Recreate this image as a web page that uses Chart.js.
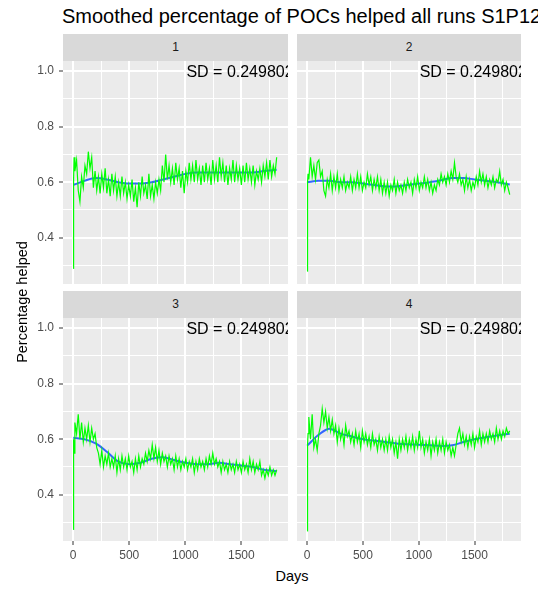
<!DOCTYPE html>
<html>
<head>
<meta charset="utf-8">
<script src="https://cdn.jsdelivr.net/npm/chart.js@4.4.1/dist/chart.umd.min.js"></script>
<style>
  body { margin: 0; background: #fff; font-family: "Liberation Sans", Arial, sans-serif; }
  #page { position: relative; width: 538px; height: 590px; overflow: hidden; }
  .title { position: absolute; left: 62px; top: 7px; font-size: 20px; line-height: 19px; white-space: nowrap; color: #000; }
  .strip { position: absolute; height: 27px; background: #D9D9D9; color: #1A1A1A; font-size: 12px; line-height: 27px; text-align: center; }
  .axis-title { position: absolute; font-size: 14.5px; line-height: 16px; color: #000; text-align: center; white-space: nowrap; }
  canvas { position: absolute; }
</style>
</head>
<body>
<div id="page">
  <div class="title">Smoothed percentage of POCs helped all runs S1P123</div>

  <div class="strip" style="left:63px; top:34px; width:225px;">1</div>
  <div class="strip" style="left:297px; top:34px; width:224px;">2</div>
  <div class="strip" style="left:63px; top:291px; width:225px;">3</div>
  <div class="strip" style="left:297px; top:291px; width:224px;">4</div>

  <canvas id="run1" width="288" height="223" style="left:0; top:61px;"></canvas>
  <canvas id="run2" width="224" height="223" style="left:297px; top:61px;"></canvas>
  <canvas id="run3" width="288" height="247" style="left:0; top:318px;"></canvas>
  <canvas id="run4" width="224" height="247" style="left:297px; top:318px;"></canvas>

  <div class="axis-title" style="left:-78px; top:294px; width:200px; transform:rotate(-90deg);">Percentage helped</div>
  <div class="axis-title" style="left:242px; top:568px; width:100px;">Days</div>
</div>

<script>
// days of the raw series
const days = [0, 2, 5, 8, 15, 30, 45, 60, 75, 90,
  105, 120, 135, 150, 165, 180, 195, 210, 225, 240,
  255, 270, 285, 300, 315, 330, 345, 360, 375, 390,
  405, 420, 435, 450, 465, 480, 495, 510, 525, 540,
  555, 570, 585, 600, 615, 630, 645, 660, 675, 690,
  705, 720, 735, 750, 765, 780, 795, 810, 825, 840,
  855, 870, 885, 900, 915, 930, 945, 960, 975, 990,
  1005, 1020, 1035, 1050, 1065, 1080, 1095, 1110, 1125, 1140,
  1155, 1170, 1185, 1200, 1215, 1230, 1245, 1260, 1275, 1290,
  1305, 1320, 1335, 1350, 1365, 1380, 1395, 1410, 1425, 1440,
  1455, 1470, 1485, 1500, 1515, 1530, 1545, 1560, 1575, 1590,
  1605, 1620, 1635, 1650, 1665, 1680, 1695, 1710, 1725, 1740,
  1755, 1770, 1785, 1800, 1815];

// percentage helped per run
const run1 = [0.29, 0.44, 0.61, 0.69, 0.64, 0.68, 0.57, 0.53, 0.62, 0.58,
  0.66, 0.63, 0.71, 0.65, 0.69, 0.58, 0.64, 0.57, 0.62, 0.56,
  0.63, 0.58, 0.65, 0.56, 0.61, 0.55, 0.63, 0.57, 0.62, 0.55,
  0.60, 0.55, 0.62, 0.56, 0.60, 0.54, 0.59, 0.55, 0.61, 0.53,
  0.58, 0.51, 0.60, 0.55, 0.62, 0.56, 0.59, 0.54, 0.63, 0.55,
  0.59, 0.54, 0.60, 0.56, 0.61, 0.57, 0.66, 0.60, 0.70, 0.61,
  0.66, 0.60, 0.65, 0.59, 0.67, 0.61, 0.65, 0.58, 0.64, 0.56,
  0.64, 0.60, 0.67, 0.61, 0.66, 0.60, 0.68, 0.61, 0.65, 0.59,
  0.66, 0.60, 0.67, 0.61, 0.65, 0.59, 0.68, 0.61, 0.66, 0.60,
  0.69, 0.62, 0.67, 0.60, 0.66, 0.59, 0.65, 0.61, 0.68, 0.60,
  0.66, 0.61, 0.65, 0.59, 0.66, 0.60, 0.67, 0.61, 0.65, 0.60,
  0.66, 0.59, 0.64, 0.61, 0.65, 0.60, 0.66, 0.62, 0.67, 0.61,
  0.68, 0.62, 0.66, 0.63, 0.69];

const run2 = [0.28, 0.44, 0.60, 0.63, 0.61, 0.69, 0.62, 0.66, 0.61, 0.67,
  0.68, 0.62, 0.64, 0.57, 0.55, 0.61, 0.58, 0.63, 0.57, 0.62,
  0.58, 0.63, 0.57, 0.61, 0.58, 0.62, 0.57, 0.60, 0.58, 0.62,
  0.57, 0.61, 0.58, 0.63, 0.58, 0.62, 0.57, 0.60, 0.58, 0.63,
  0.59, 0.62, 0.57, 0.61, 0.58, 0.62, 0.57, 0.61, 0.56, 0.60,
  0.56, 0.60, 0.55, 0.59, 0.57, 0.61, 0.56, 0.60, 0.57, 0.59,
  0.56, 0.60, 0.57, 0.61, 0.58, 0.60, 0.56, 0.61, 0.58, 0.62,
  0.57, 0.60, 0.58, 0.62, 0.58, 0.61, 0.57, 0.60, 0.56, 0.59,
  0.57, 0.61, 0.59, 0.63, 0.60, 0.62, 0.59, 0.63, 0.60, 0.64,
  0.61, 0.67, 0.62, 0.60, 0.63, 0.59, 0.61, 0.57, 0.62, 0.58,
  0.61, 0.57, 0.60, 0.58, 0.62, 0.59, 0.64, 0.60, 0.63, 0.59,
  0.62, 0.58, 0.61, 0.59, 0.62, 0.58, 0.61, 0.60, 0.64, 0.59,
  0.61, 0.57, 0.60, 0.58, 0.555];

const run3 = [0.275, 0.36, 0.60, 0.55, 0.66, 0.62, 0.69, 0.60, 0.66, 0.59,
  0.64, 0.60, 0.65, 0.59, 0.64, 0.60, 0.62, 0.57, 0.55, 0.51,
  0.56, 0.50, 0.54, 0.51, 0.55, 0.50, 0.53, 0.50, 0.54, 0.48,
  0.53, 0.49, 0.54, 0.50, 0.53, 0.49, 0.54, 0.50, 0.52, 0.48,
  0.53, 0.49, 0.54, 0.50, 0.53, 0.51, 0.55, 0.52, 0.56, 0.53,
  0.58, 0.53, 0.57, 0.52, 0.56, 0.51, 0.55, 0.52, 0.54, 0.50,
  0.54, 0.51, 0.53, 0.49, 0.54, 0.50, 0.53, 0.49, 0.52, 0.50,
  0.53, 0.49, 0.52, 0.50, 0.53, 0.48, 0.52, 0.49, 0.53, 0.50,
  0.52, 0.49, 0.53, 0.50, 0.54, 0.51, 0.55, 0.51, 0.53, 0.50,
  0.52, 0.48, 0.52, 0.49, 0.51, 0.48, 0.52, 0.49, 0.51, 0.48,
  0.52, 0.49, 0.51, 0.48, 0.52, 0.49, 0.51, 0.48, 0.53, 0.49,
  0.52, 0.48, 0.51, 0.49, 0.52, 0.47, 0.49, 0.46, 0.49, 0.47,
  0.50, 0.47, 0.49, 0.47, 0.49];

const run4 = [0.27, 0.44, 0.58, 0.62, 0.68, 0.60, 0.69, 0.57, 0.60, 0.56,
  0.62, 0.65, 0.71, 0.66, 0.70, 0.64, 0.68, 0.63, 0.67, 0.62,
  0.65, 0.59, 0.64, 0.60, 0.63, 0.58, 0.65, 0.61, 0.63, 0.59,
  0.62, 0.58, 0.63, 0.59, 0.62, 0.57, 0.63, 0.59, 0.62, 0.58,
  0.61, 0.57, 0.62, 0.58, 0.60, 0.56, 0.61, 0.57, 0.60, 0.56,
  0.60, 0.56, 0.61, 0.57, 0.60, 0.55, 0.59, 0.53, 0.60, 0.56,
  0.60, 0.57, 0.61, 0.56, 0.60, 0.57, 0.61, 0.56, 0.60, 0.57,
  0.63, 0.57, 0.60, 0.55, 0.59, 0.56, 0.60, 0.54, 0.59, 0.56,
  0.60, 0.55, 0.59, 0.56, 0.60, 0.55, 0.59, 0.56, 0.58, 0.54,
  0.57, 0.54, 0.58, 0.62, 0.64, 0.59, 0.62, 0.58, 0.61, 0.57,
  0.61, 0.58, 0.62, 0.57, 0.61, 0.59, 0.63, 0.58, 0.62, 0.59,
  0.62, 0.59, 0.63, 0.60, 0.62, 0.59, 0.64, 0.60, 0.63, 0.60,
  0.63, 0.61, 0.64, 0.62, 0.63];

// loess smooth, sampled every 100 days
const smoothDays = [0, 100, 200, 300, 400, 500, 600, 700, 800, 900, 1000, 1100, 1200, 1300, 1400, 1500, 1600, 1700, 1815];
const smooth1 = [0.59, 0.605, 0.615, 0.61, 0.60, 0.595, 0.595, 0.60, 0.61, 0.62, 0.63, 0.635, 0.635, 0.635, 0.635, 0.635, 0.635, 0.64, 0.645];
const smooth2 = [0.60, 0.605, 0.605, 0.60, 0.60, 0.595, 0.59, 0.585, 0.585, 0.59, 0.595, 0.60, 0.607, 0.615, 0.615, 0.61, 0.605, 0.60, 0.592];
const smooth3 = [0.605, 0.60, 0.585, 0.555, 0.52, 0.51, 0.515, 0.53, 0.535, 0.525, 0.515, 0.51, 0.51, 0.515, 0.51, 0.505, 0.50, 0.49, 0.485];
const smooth4 = [0.577, 0.615, 0.638, 0.62, 0.61, 0.60, 0.595, 0.59, 0.585, 0.582, 0.58, 0.578, 0.576, 0.578, 0.59, 0.60, 0.607, 0.613, 0.62];

// axes
const xTicks = [0, 500, 1000, 1500];
const xMinor = [250, 750, 1250, 1750];
const yTicks = [0.4, 0.6, 0.8, 1.0];
const yMinor = [0.3, 0.5, 0.7, 0.9];
const xRange = [-91, 1916];
const yRange = [0.2335, 1.0365];

const sdText = 'SD = 0.249802';
const sdPos = [1488, 1.0];

const FONT = '"Liberation Sans", Arial, sans-serif';

// Grey panel background behind the grid
const panelBg = {
  id: 'panelBg',
  beforeDraw(chart) {
    const { ctx, chartArea: a } = chart;
    ctx.save();
    ctx.fillStyle = '#EBEBEB';
    ctx.fillRect(a.left, a.top, a.width, a.height);
    ctx.restore();
  },
};

// SD annotation, clipped to the panel like ggplot does
const sdLabel = {
  id: 'sdLabel',
  afterDatasetsDraw(chart) {
    const { ctx, chartArea: a, scales } = chart;
    const x = scales.x.getPixelForValue(sdPos[0]);
    const y = scales.y.getPixelForValue(sdPos[1]);
    ctx.save();
    ctx.beginPath();
    ctx.rect(a.left, a.top, a.width, a.height);
    ctx.clip();
    ctx.font = '16px ' + FONT;
    ctx.fillStyle = '#000';
    ctx.textAlign = 'center';
    ctx.textBaseline = 'alphabetic';
    ctx.fillText(sdText, x, y + 5.7);
    ctx.restore();
  },
};

const isMajor = (list, v) => list.some((t) => Math.abs(t - v) < 1e-9);

const createPanel = (canvasId, values, smooth, showX, showY) => {
  const canvas = document.getElementById(canvasId);
  const context = canvas.getContext('2d');

  return new Chart(context, {
    type: 'line',
    data: {
      datasets: [
        {
          data: days.map((d, i) => ({ x: d, y: values[i] })),
          borderColor: '#00FF00',
          borderWidth: 1.2,
          pointRadius: 0,
          tension: 0,
        },
        {
          data: smoothDays.map((d, i) => ({ x: d, y: smooth[i] })),
          borderColor: '#3366FF',
          borderWidth: 2,
          pointRadius: 0,
          cubicInterpolationMode: 'monotone',
        },
      ],
    },
    options: {
      responsive: false,
      animation: false,
      devicePixelRatio: 1,
      layout: { padding: 0 },
      plugins: {
        legend: { display: false },
        tooltip: { enabled: false },
      },
      scales: {
        x: {
          type: 'linear',
          min: xRange[0],
          max: xRange[1],
          afterBuildTicks: (scale) => {
            scale.ticks = [...xTicks, ...xMinor].sort((a, b) => a - b).map((v) => ({ value: v }));
          },
          afterFit: (scale) => {
            scale.height = showX ? 24 : 0;
            scale.paddingLeft = 0;
            scale.paddingRight = 0;
          },
          border: { display: false },
          grid: {
            color: '#FFFFFF',
            lineWidth: (ctx) => (isMajor(xTicks, ctx.tick.value) ? 2 : 1),
            drawTicks: showX,
            tickLength: 4,
            tickWidth: 1,
            tickColor: (ctx) => (isMajor(xTicks, ctx.tick.value) ? '#333333' : 'rgba(0,0,0,0)'),
          },
          ticks: {
            display: showX,
            autoSkip: false,
            maxRotation: 0,
            padding: 3,
            color: '#4D4D4D',
            font: { family: FONT, size: 12 },
            callback: (v) => (isMajor(xTicks, v) ? String(v) : ''),
          },
        },
        y: {
          type: 'linear',
          min: yRange[0],
          max: yRange[1],
          afterBuildTicks: (scale) => {
            scale.ticks = [...yTicks, ...yMinor].sort((a, b) => a - b).map((v) => ({ value: v }));
          },
          afterFit: (scale) => {
            scale.width = showY ? 63 : 0;
            scale.paddingTop = 0;
            scale.paddingBottom = 0;
          },
          border: { display: false },
          grid: {
            color: '#FFFFFF',
            lineWidth: (ctx) => (isMajor(yTicks, ctx.tick.value) ? 2 : 1),
            drawTicks: showY,
            tickLength: 4,
            tickWidth: 1,
            tickColor: (ctx) => (isMajor(yTicks, ctx.tick.value) ? '#333333' : 'rgba(0,0,0,0)'),
          },
          ticks: {
            display: showY,
            padding: 5,
            color: '#4D4D4D',
            font: { family: FONT, size: 12 },
            callback: (v) => (isMajor(yTicks, v) ? v.toFixed(1) : ''),
          },
        },
      },
    },
    plugins: [panelBg, sdLabel],
  });
};

createPanel('run1', run1, smooth1, false, true);
createPanel('run2', run2, smooth2, false, false);
createPanel('run3', run3, smooth3, true, true);
createPanel('run4', run4, smooth4, true, false);
</script>
</body>
</html>
